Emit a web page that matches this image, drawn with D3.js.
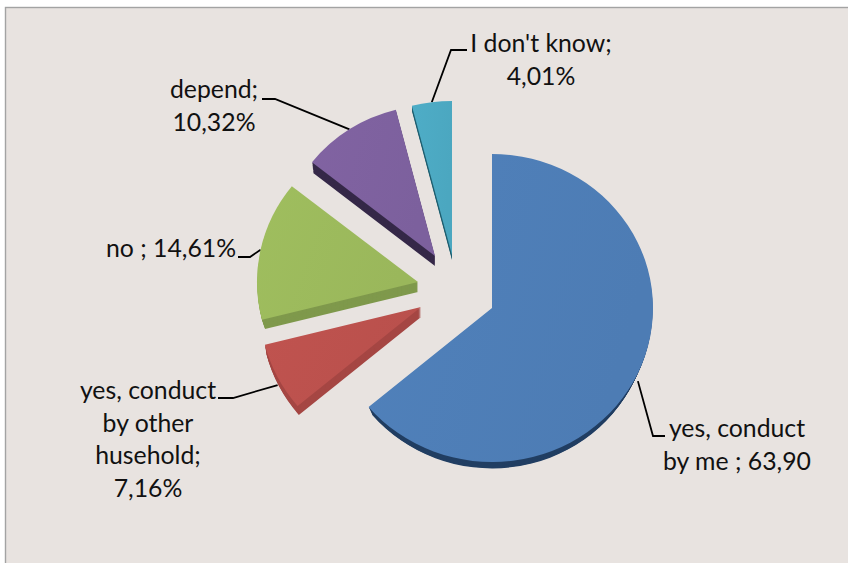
<!DOCTYPE html>
<html>
<head>
<meta charset="utf-8">
<script src="https://cdn.jsdelivr.net/npm/d3@7"></script>
<style>
html,body{margin:0;padding:0;background:#fff}
svg{display:block}
text{font-family:Lato,"Open Sans",sans-serif;font-size:24.8px;fill:#111}
</style>
</head>
<body>
<svg id="chart" width="848" height="563"></svg>
<script>
// Survey answers, in clockwise order from twelve o'clock
const categories = ["yes, conduct by me", "yes, conduct by other husehold", "no", "depend", "I don't know"];
const shares = [63.90, 7.16, 14.61, 10.32, 4.01];
const labelLines = [
  ["yes, conduct", "by me ; 63,90"],
  ["yes, conduct", "by other", "husehold;", "7,16%"],
  ["no ; 14,61%"],
  ["depend;", "10,32%"],
  ["I don't know;", "4,01%"]
];

// Slice styling
const topColors = ["#4f7fb8", "#bd524e", "#9dbb5d", "#7f62a0", "#4dabc4"];
const sideColors = ["#223f63", "#a54643", "#7f994c", "#352848", "#1f5f70"];

// Layout of each exploded slice: apex, radii, extrusion, label anchor and leader elbows
const apexes = [[492, 308], [421, 307], [418, 282], [435, 256], [452, 255]];
const radiusX = [161, 161, 161, 157, 161];
const radiusY = [154, 154, 154, 151, 154];
const depths = [11, 10, 10, 10, 5];
const rimShrink = [0.03, 0.01, 0.02, 0.01, 0];
const leaderElbows = [
  [[653, 436], [665, 436]],
  [[233, 398], [218, 398]],
  [[250, 257], [238, 257]],
  [[275, 99], [262, 99]],
  [[451, 50], [467, 50]]
];
const labelPos = [[737, 437], [148, 399], [171, 257], [214, 98], [541, 52]];
const lineStep = 32.7;

const svg = d3.select("#chart");

// Chart area with its thin grey frame on the top and left
svg.append("rect").attr("x", 5.5).attr("y", 7.5).attr("width", 850).attr("height", 560)
  .attr("fill", "#e8e3e0").attr("stroke", "#a3a3a3").attr("stroke-width", 1.4);

const unit = 100;
const pie = d3.pie().sort(null).value(d => d).startAngle(0).endAngle(2 * Math.PI);
const arc = d3.arc().innerRadius(0).outerRadius(unit);
const slices = pie(shares);

// Shading across the top faces
const defs = svg.append("defs");
slices.forEach((s, i) => {
  const g = defs.append("linearGradient").attr("id", "face" + i)
    .attr("x1", 0).attr("y1", 0).attr("x2", 1).attr("y2", 0.3);
  g.append("stop").attr("offset", 0).attr("stop-color", d3.color(topColors[i]).brighter(0.04));
  g.append("stop").attr("offset", 1).attr("stop-color", d3.color(topColors[i]).darker(0.06));
});

// Leaders go under the wedges so they meet the rim cleanly
const leaders = svg.append("g");
const wedges = svg.append("g");

slices.forEach((s, i) => {
  const tf = dy => {
    const k = 1 - rimShrink[i] * dy / depths[i];
    return `translate(${apexes[i][0]},${apexes[i][1] + dy}) scale(${k * radiusX[i] / unit},${k * radiusY[i] / unit})`;
  };
  const g = wedges.append("g");
  // Extrusion: the same wedge stacked downwards, narrowing slightly with depth
  g.selectAll("path.side").data(d3.range(depths[i], 0, -1)).join("path")
    .attr("class", "side")
    .attr("d", arc(s))
    .attr("transform", d => tf(d))
    .attr("fill", sideColors[i]);
  g.append("path").attr("d", arc(s)).attr("transform", tf(0)).attr("fill", `url(#face${i})`);

  // Leader starts on the rim at the slice's mid angle
  const mid = (s.startAngle + s.endAngle) / 2;
  const rimDrop = Math.cos(mid) < 0 ? 8 : 0;
  const start = [
    apexes[i][0] + radiusX[i] * Math.sin(mid),
    apexes[i][1] - radiusY[i] * Math.cos(mid) + rimDrop
  ];
  leaders.append("path")
    .attr("d", d3.line()([start, ...leaderElbows[i]]))
    .attr("fill", "none").attr("stroke", "#000").attr("stroke-width", 1.8);

  // Label block, centred on its x position
  const t = svg.append("text").attr("text-anchor", "middle");
  labelLines[i].forEach((line, k) => {
    t.append("tspan").attr("x", labelPos[i][0]).attr("y", labelPos[i][1] + k * lineStep).text(line);
  });
});
</script>
</body>
</html>
